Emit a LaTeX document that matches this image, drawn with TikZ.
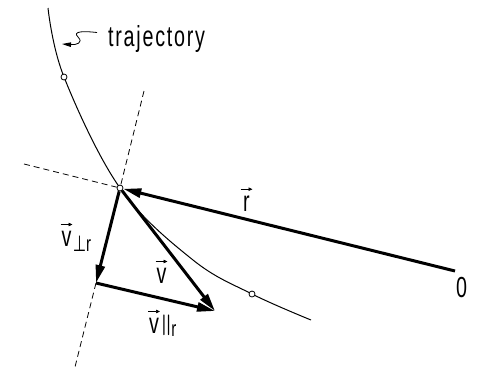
\documentclass[tikz,border=0pt]{standalone}
\usepackage{fontspec}
\setmainfont{Liberation Sans}
\newfontfamily\lblfont[FakeStretch=0.68,LetterSpace=6]{Liberation Sans}
\newfontfamily\symfont[FakeStretch=0.7]{DejaVu Sans}
\usetikzlibrary{arrows.meta,positioning,backgrounds}
\begin{document}
\begin{tikzpicture}[
  x=1pt, y=-1pt,
  traj/.style={line width=1pt, black},
  guide/.style={dashed, dash pattern=on 6pt off 4pt, line width=0.8pt},
  vec/.style={-{Triangle[length=18pt, width=9pt]}, line width=3pt},
  dot/.style={circle, draw, fill=white, line width=0.8pt,
              inner sep=0pt, minimum size=6pt},
  lbl/.style={font=\lblfont\fontsize{29}{33}\selectfont, inner sep=0pt},
  sub/.style={font=\lblfont\fontsize{22}{26}\selectfont, inner sep=0pt},
  varr/.style={-{Triangle[length=4pt, width=3.5pt]}, line width=0.7pt},
  lead/.style={-{Triangle[length=9pt, width=4.5pt]}, line width=0.8pt},
]
\useasboundingbox (0,0) rectangle (478,368);
% Points on the trajectory
\coordinate (T0) at (48,8);
\node[dot] (T1) at (64,77) {};
\node[dot] (P) at (120,188) {};
\coordinate (T2) at (193,260);
\node[dot] (T3) at (252,294) {};
\coordinate (T4) at (311,320);
% Origin, foot of the components, tip of v
\coordinate (O) at (455,271);
\coordinate (F) at (96,283);
\coordinate (V) at (215,311);
% Ends of the dashed guides
\coordinate (rd) at (24,164);
\coordinate (pt) at (144,91);
\coordinate (pb) at (75,367);
% Labels
\node[lbl, anchor=base west] (trj) at (108,46) {trajectory};
\node[lbl, anchor=base] (rL) at (246.5,211) {r};
\node[lbl, anchor=base] (zero) at (461.5,297) {0};
\node[lbl, anchor=base] (vA) at (66.5,246) {v};
\node[sub, base right=1pt of vA, yshift=-5pt] (vAs) {{\symfont ⊥}r};
\node[lbl, anchor=base] (vB) at (161.5,283) {v};
\node[lbl, anchor=base] (vC) at (154,333) {v};
\node[sub, base right=1pt of vC, yshift=-3pt] (vCs)
  {\raisebox{0.24em}{\boldmath$\parallel$}\kern-1pt r};
\coordinate (ltip) at (62,44);
\begin{scope}[on background layer]
  % Trajectory
  \draw[traj] plot[smooth, tension=0.6] coordinates {(T0) (T1) (P) (T2) (T3) (T4)};
  % Dashed guides
  \draw[guide] (rd) -- (P);
  \draw[guide] (pt) -- (P);
  \draw[guide] (F) -- (pb);
  % Vectors
  \draw[vec] (O) -- (P);
  \draw[vec] (P) -- (F);
  \draw[vec] (F) -- (V);
  \draw[vec] (P) -- (V);
\end{scope}
% Small arrows over the letters
\foreach \n in {rL,vA,vB,vC}
  \draw[varr] ([xshift=-6pt,yshift=6pt]\n.north) -- ([xshift=6pt,yshift=6pt]\n.north);
% Leader to the trajectory
\draw[lead] ([xshift=-11pt,yshift=6pt]trj.west)
  .. controls (84,31) and (72,31) .. (78,37)
  .. controls (84,43) and (76,45) .. (ltip);
\end{tikzpicture}
\end{document}
